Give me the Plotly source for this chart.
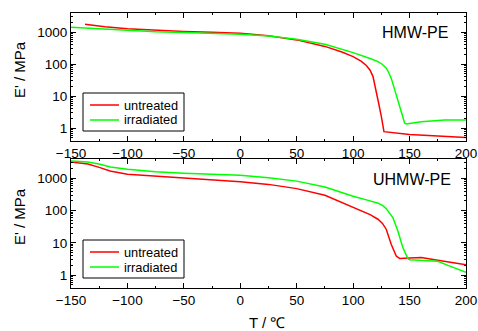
import plotly.graph_objects as go

# HMW-PE
hmw_untreated_T = [-137.6, -120, -100, -75, -50, -25, 0, 25, 50, 75, 90, 100, 107, 111.7, 115, 117.6, 120, 122, 125, 127.3, 150, 175, 200]
hmw_untreated_E = [1780, 1480, 1280, 1150, 1060, 990, 930, 780, 575, 360, 240, 173, 125, 91, 65, 41, 18, 7.6, 2.3, 0.78, 0.64, 0.57, 0.51]
hmw_irr_T = [-150, -125, -100, -75, -50, -25, 0, 25, 50, 75, 100, 115, 122, 126, 129.4, 131.5, 133.8, 138.2, 142.7, 145.6, 147, 160.4, 181, 200]
hmw_irr_E = [1430, 1260, 1120, 1030, 970, 920, 860, 760, 605, 420, 230, 150, 120, 98, 75, 55, 36, 11, 2.9, 1.45, 1.35, 1.6, 1.8, 1.8]

# UHMW-PE
uhmw_untreated_T = [-150, -135, -124.3, -115.4, -100, -75, -50, -25, 0, 25, 50, 75, 100, 115, 122, 126, 129.4, 133.8, 138.2, 141.2, 150, 160.4, 175, 200]
uhmw_untreated_E = [3200, 2800, 2150, 1690, 1330, 1170, 1050, 920, 790, 650, 480, 300, 123, 75, 54, 40, 26, 8.9, 3.9, 3.3, 3.4, 3.5, 2.9, 2.1]
uhmw_irr_T = [-150, -135, -124.3, -115, -100, -75, -50, -25, 0, 25, 50, 75, 100, 115, 122, 126, 129.4, 135.3, 139.7, 144.1, 148.6, 150, 175, 184, 193, 200]
uhmw_irr_E = [3450, 3200, 2720, 2250, 1900, 1600, 1430, 1330, 1240, 1050, 820, 540, 280, 200, 170, 145, 115, 60, 23, 7, 3.2, 3.0, 2.7, 2.0, 1.5, 1.23]

x_ticks = [-150, -100, -50, 0, 50, 100, 150, 200]
y_ticks = [1, 10, 100, 1000]
y_ticktext = ["1", "10", "100", "1000"]
legend_labels = ["untreated", "irradiated"]

RED = "#ff0000"
GREEN = "#00ff00"
FONT = "Liberation Sans, Arial, sans-serif"

fig = go.Figure()
fig.add_trace(go.Scatter(x=hmw_untreated_T, y=hmw_untreated_E, mode="lines", name=legend_labels[0],
                         line=dict(color=RED, width=1.5), xaxis="x", yaxis="y"))
fig.add_trace(go.Scatter(x=hmw_irr_T, y=hmw_irr_E, mode="lines", name=legend_labels[1],
                         line=dict(color=GREEN, width=1.5), xaxis="x", yaxis="y"))
fig.add_trace(go.Scatter(x=uhmw_untreated_T, y=uhmw_untreated_E, mode="lines", name=legend_labels[0],
                         line=dict(color=RED, width=1.5), xaxis="x2", yaxis="y2"))
fig.add_trace(go.Scatter(x=uhmw_irr_T, y=uhmw_irr_E, mode="lines", name=legend_labels[1],
                         line=dict(color=GREEN, width=1.5), xaxis="x2", yaxis="y2"))

TICKFONT = dict(size=13.5, color="black", family=FONT)
xcommon = dict(range=[-150, 200], tickvals=x_ticks, ticks="inside", ticklen=5, tickcolor="black",
               showline=True, linecolor="black", linewidth=1, mirror="ticks", showgrid=False,
               zeroline=False, automargin=False, tickfont=TICKFONT,
               minor=dict(dtick=25, tick0=-150, ticks="inside", ticklen=2, tickcolor="black", showgrid=False))
ycommon = dict(type="log", range=[-0.4, 3.6], tickvals=y_ticks, ticktext=y_ticktext, ticks="inside",
               ticklen=5, tickcolor="black", showline=True, linecolor="black", linewidth=1,
               mirror="ticks", showgrid=False, zeroline=False, automargin=False,
               tickfont=TICKFONT,
               minor=dict(dtick="D1", ticks="inside", ticklen=2, tickcolor="black", showgrid=False))

W, H = 478, 331
L, R, T, B = 71, 12, 13, 43
PW, PH = W - L - R, H - T - B


def px(xp):
    return (xp - L) / PW


def py(yp):
    return (H - B - yp) / PH


fig.update_layout(
    width=W, height=H,
    margin=dict(l=L, r=R, t=T, b=B),
    paper_bgcolor="white", plot_bgcolor="white",
    font=dict(family=FONT, color="black", size=13),
    xaxis=dict(domain=[0, 1], anchor="y", **xcommon),
    yaxis=dict(domain=[py(141), 1], anchor="x", **ycommon),
    xaxis2=dict(domain=[0, 1], anchor="y2", **xcommon),
    yaxis2=dict(domain=[0, py(159)], anchor="x2", **ycommon),
    showlegend=False,
)

# manual legends (boxes with line samples and labels)
for top in (93, 240):
    fig.add_shape(type="rect", xref="paper", yref="paper", x0=px(83), x1=px(184), y0=py(top), y1=py(top + 38),
                  line=dict(color="black", width=1), fillcolor="white", layer="above")
    for i, (lab, col) in enumerate(zip(legend_labels, [RED, GREEN])):
        yy = top + 12 + i * 15
        fig.add_shape(type="line", xref="paper", yref="paper", x0=px(90), x1=px(119), y0=py(yy), y1=py(yy),
                      line=dict(color=col, width=1.5), layer="above")
        fig.add_annotation(text=lab, xref="paper", yref="paper", x=px(122), y=py(yy), xanchor="left",
                           yanchor="middle", showarrow=False, font=dict(size=12.8, family=FONT))

fig.add_annotation(text="HMW-PE", xref="paper", yref="paper", x=px(450), y=py(32),
                   xanchor="right", yanchor="middle", showarrow=False, font=dict(size=16, family=FONT))
fig.add_annotation(text="UHMW-PE", xref="paper", yref="paper", x=px(453), y=py(179),
                   xanchor="right", yanchor="middle", showarrow=False, font=dict(size=16, family=FONT))
fig.add_annotation(text="E' / MPa", xref="paper", yref="paper", x=px(19), y=py(70),
                   xanchor="center", yanchor="middle", textangle=-90, showarrow=False, font=dict(size=15, family=FONT))
fig.add_annotation(text="E' / MPa", xref="paper", yref="paper", x=px(19), y=py(217),
                   xanchor="center", yanchor="middle", textangle=-90, showarrow=False, font=dict(size=15, family=FONT))
fig.add_annotation(text="T / ℃", xref="paper", yref="paper", x=px(267), y=py(322),
                   xanchor="center", yanchor="middle", showarrow=False, font=dict(size=15, family=FONT))

fig.write_html("out.html")
